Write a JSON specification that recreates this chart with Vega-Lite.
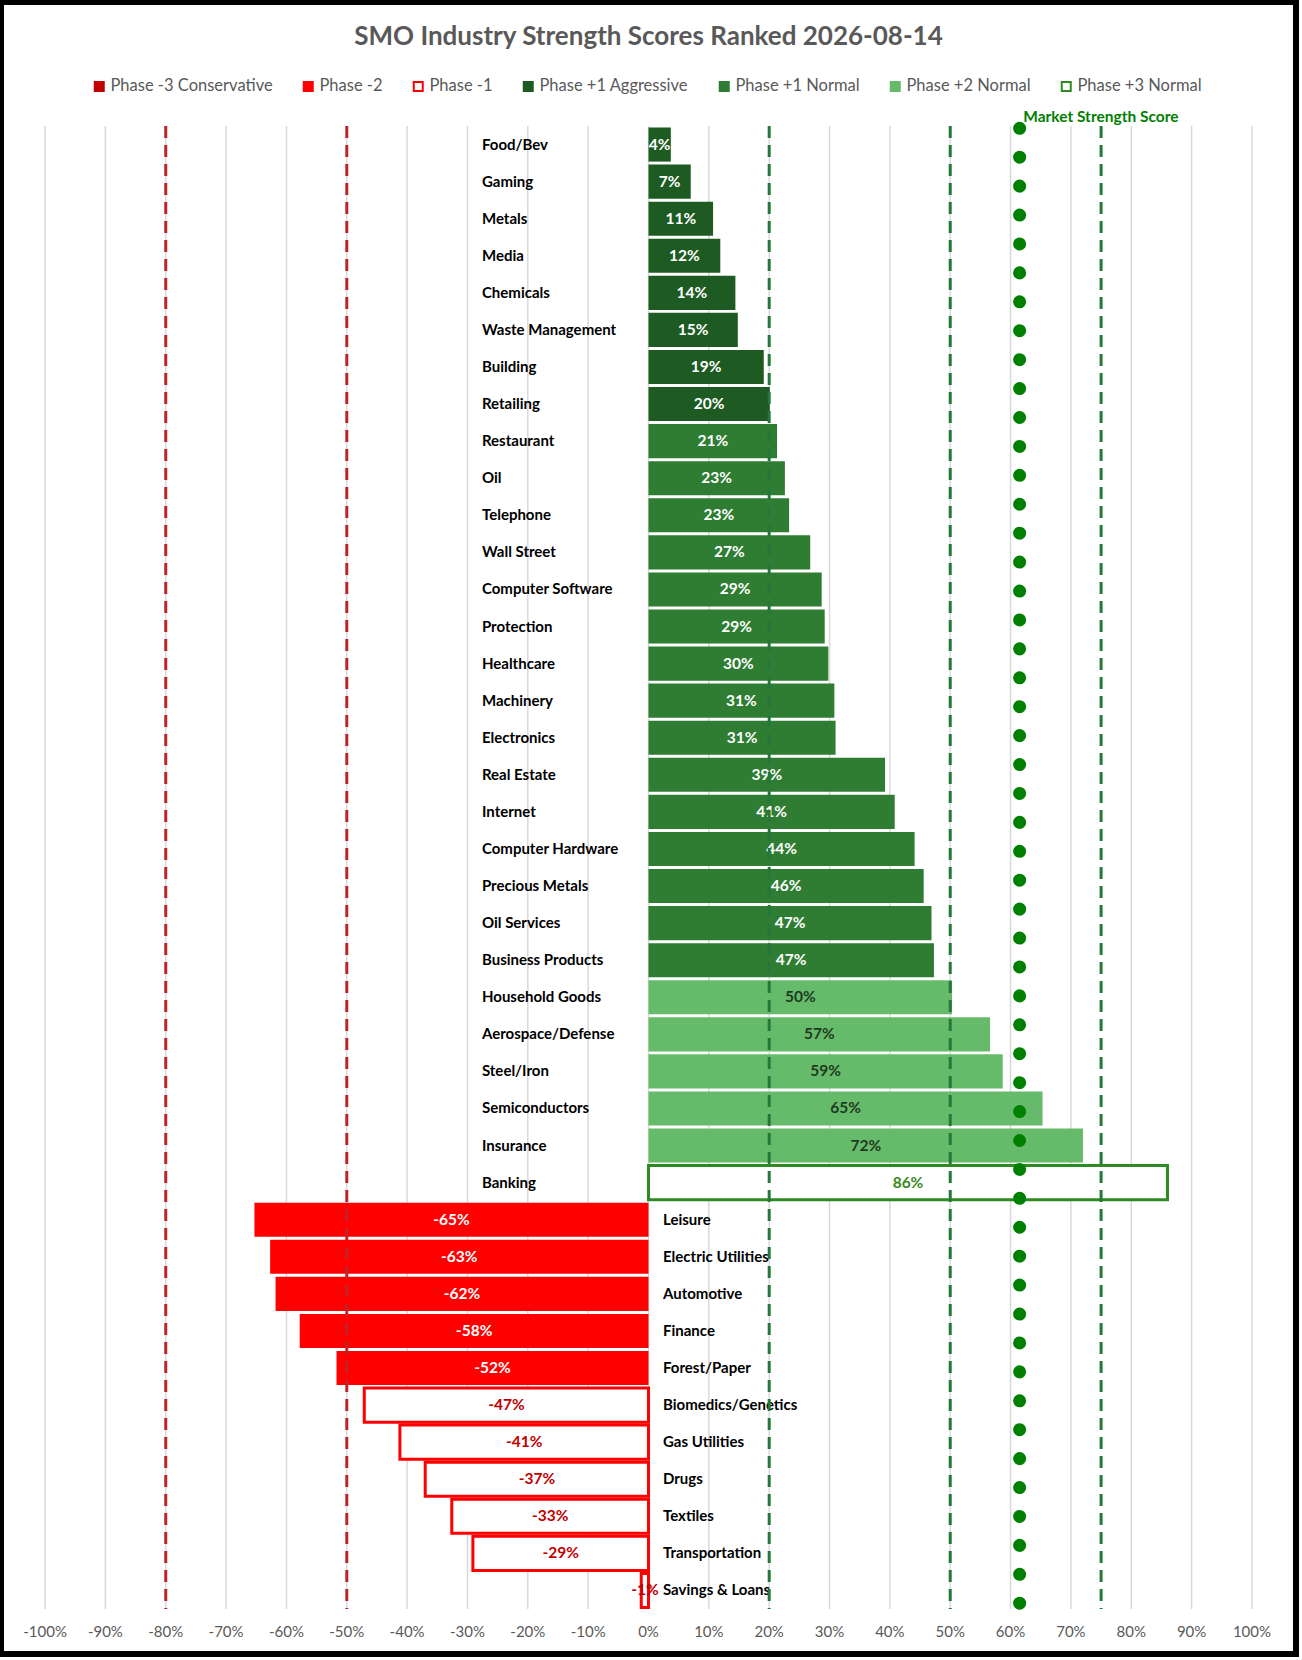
{
  "$schema": "https://vega.github.io/schema/vega-lite/v6.json",
  "description": "SMO industry strength scores ranked, with phase colours and market strength score.",
  "width": 1295,
  "height": 1652,
  "autosize": {"type": "none"},
  "padding": {"left": 1, "top": 2, "right": 6, "bottom": 6},
  "background": "white",
  "layer": [
    {
      "data": {"values": [
        {"x": -1}, {"x": -0.9}, {"x": -0.8}, {"x": -0.7}, {"x": -0.6}, {"x": -0.5}, {"x": -0.4},
        {"x": -0.3}, {"x": -0.2}, {"x": -0.1}, {"x": 0}, {"x": 0.1}, {"x": 0.2}, {"x": 0.3},
        {"x": 0.4}, {"x": 0.5}, {"x": 0.6}, {"x": 0.7}, {"x": 0.8}, {"x": 0.9}, {"x": 1}
      ]},
      "layer": [
        {
          "mark": {"type": "rule", "color": "#D9D9D9", "strokeWidth": 1.5},
          "encoding": {
            "x": {"field": "x", "type": "quantitative", "scale": {"domain": [-1.073, 1.073]}, "axis": null},
            "y": {"datum": -0.08, "type": "quantitative", "scale": {"domain": [-4.367, 52.756], "reverse": true}, "axis": null},
            "y2": {"datum": 51.2}
          }
        },
        {
          "mark": {"type": "text", "fontSize": 15, "color": "#595959", "align": "center", "baseline": "middle"},
          "encoding": {
            "x": {"field": "x", "type": "quantitative", "scale": {"domain": [-1.073, 1.073]}, "axis": null},
            "y": {"datum": 51.98, "type": "quantitative", "scale": {"domain": [-4.367, 52.756], "reverse": true}, "axis": null},
            "text": {"field": "x", "type": "quantitative", "format": ".0%"}
          }
        }
      ]
    },
    {
      "data": {"values": [
        {"name": "Food/Bev", "v": 0.037, "phase": "Phase +1 Aggressive"},
        {"name": "Gaming", "v": 0.07, "phase": "Phase +1 Aggressive"},
        {"name": "Metals", "v": 0.107, "phase": "Phase +1 Aggressive"},
        {"name": "Media", "v": 0.119, "phase": "Phase +1 Aggressive"},
        {"name": "Chemicals", "v": 0.144, "phase": "Phase +1 Aggressive"},
        {"name": "Waste Management", "v": 0.148, "phase": "Phase +1 Aggressive"},
        {"name": "Building", "v": 0.191, "phase": "Phase +1 Aggressive"},
        {"name": "Retailing", "v": 0.201, "phase": "Phase +1 Aggressive"},
        {"name": "Restaurant", "v": 0.213, "phase": "Phase +1 Normal"},
        {"name": "Oil", "v": 0.226, "phase": "Phase +1 Normal"},
        {"name": "Telephone", "v": 0.233, "phase": "Phase +1 Normal"},
        {"name": "Wall Street", "v": 0.268, "phase": "Phase +1 Normal"},
        {"name": "Computer Software", "v": 0.287, "phase": "Phase +1 Normal"},
        {"name": "Protection", "v": 0.292, "phase": "Phase +1 Normal"},
        {"name": "Healthcare", "v": 0.298, "phase": "Phase +1 Normal"},
        {"name": "Machinery", "v": 0.308, "phase": "Phase +1 Normal"},
        {"name": "Electronics", "v": 0.31, "phase": "Phase +1 Normal"},
        {"name": "Real Estate", "v": 0.392, "phase": "Phase +1 Normal"},
        {"name": "Internet", "v": 0.408, "phase": "Phase +1 Normal"},
        {"name": "Computer Hardware", "v": 0.441, "phase": "Phase +1 Normal"},
        {"name": "Precious Metals", "v": 0.456, "phase": "Phase +1 Normal"},
        {"name": "Oil Services", "v": 0.469, "phase": "Phase +1 Normal"},
        {"name": "Business Products", "v": 0.473, "phase": "Phase +1 Normal"},
        {"name": "Household Goods", "v": 0.503, "phase": "Phase +2 Normal"},
        {"name": "Aerospace/Defense", "v": 0.566, "phase": "Phase +2 Normal"},
        {"name": "Steel/Iron", "v": 0.587, "phase": "Phase +2 Normal"},
        {"name": "Semiconductors", "v": 0.653, "phase": "Phase +2 Normal"},
        {"name": "Insurance", "v": 0.72, "phase": "Phase +2 Normal"},
        {"name": "Banking", "v": 0.86, "phase": "Phase +3 Normal"},
        {"name": "Leisure", "v": -0.653, "phase": "Phase -2"},
        {"name": "Electric Utilities", "v": -0.627, "phase": "Phase -2"},
        {"name": "Automotive", "v": -0.618, "phase": "Phase -2"},
        {"name": "Finance", "v": -0.578, "phase": "Phase -2"},
        {"name": "Forest/Paper", "v": -0.517, "phase": "Phase -2"},
        {"name": "Biomedics/Genetics", "v": -0.471, "phase": "Phase -1"},
        {"name": "Gas Utilities", "v": -0.412, "phase": "Phase -1"},
        {"name": "Drugs", "v": -0.37, "phase": "Phase -1"},
        {"name": "Textiles", "v": -0.326, "phase": "Phase -1"},
        {"name": "Transportation", "v": -0.291, "phase": "Phase -1"},
        {"name": "Savings & Loans", "v": -0.012, "phase": "Phase -1"}
      ]},
      "layer": [
        {
          "mark": {"type": "bar"},
          "encoding": {
            "y": {
              "field": "name", "type": "nominal", "sort": null, "axis": null,
              "scale": {
                "domain": ["Food/Bev", "Gaming", "Metals", "Media", "Chemicals", "Waste Management", "Building", "Retailing", "Restaurant", "Oil", "Telephone", "Wall Street", "Computer Software", "Protection", "Healthcare", "Machinery", "Electronics", "Real Estate", "Internet", "Computer Hardware", "Precious Metals", "Oil Services", "Business Products", "Household Goods", "Aerospace/Defense", "Steel/Iron", "Semiconductors", "Insurance", "Banking", "Leisure", "Electric Utilities", "Automotive", "Finance", "Forest/Paper", "Biomedics/Genetics", "Gas Utilities", "Drugs", "Textiles", "Transportation", "Savings & Loans"],
                "range": [124, 1607],
                "paddingInner": 0.08, "paddingOuter": 0.04, "round": false
              }
            },
            "x": {"field": "v", "type": "quantitative", "scale": {"domain": [-1.073, 1.073]}, "axis": null},
            "fill": {
              "field": "phase", "type": "nominal",
              "scale": {
                "domain": ["Phase -3 Conservative", "Phase -2", "Phase -1", "Phase +1 Aggressive", "Phase +1 Normal", "Phase +2 Normal", "Phase +3 Normal"],
                "range": ["#C00000", "#FF0000", "#FFFFFF", "#1D5B22", "#2E7D32", "#66BB6A", "#FFFFFF"]
              },
              "legend": {
                "title": null, "orient": "none", "legendX": 90, "legendY": 76, "direction": "horizontal", "columns": 7,
                "columnPadding": 26, "symbolType": "square", "symbolSize": 81, "symbolStrokeWidth": 2,
                "labelFontSize": 16.5, "labelColor": "#595959", "labelLimit": 300, "labelOffset": 3, "padding": 0
              }
            },
            "stroke": {
              "field": "phase", "type": "nominal",
              "scale": {
                "domain": ["Phase -3 Conservative", "Phase -2", "Phase -1", "Phase +1 Aggressive", "Phase +1 Normal", "Phase +2 Normal", "Phase +3 Normal"],
                "range": ["#C00000", "#FF0000", "#FF0000", "#1D5B22", "#2E7D32", "#66BB6A", "#2E8B22"]
              },
              "legend": {
                "title": null, "orient": "none", "legendX": 90, "legendY": 76, "direction": "horizontal", "columns": 7,
                "columnPadding": 26, "symbolType": "square", "symbolSize": 81, "symbolStrokeWidth": 2,
                "labelFontSize": 16.5, "labelColor": "#595959", "labelLimit": 300, "labelOffset": 3, "padding": 0
              }
            },
            "strokeWidth": {
              "condition": {"test": "datum.phase === 'Phase -1' || datum.phase === 'Phase +3 Normal'", "value": 3},
              "value": 0
            }
          }
        },
        {
          "mark": {"type": "text", "fontSize": 15.5, "fontWeight": "bold", "align": "center", "baseline": "middle"},
          "encoding": {
            "y": {"field": "name", "type": "nominal", "sort": null, "axis": null},
            "x": {"field": "v", "type": "quantitative", "stack": "zero", "bandPosition": 0.5, "scale": {"domain": [-1.073, 1.073]}, "axis": null},
            "text": {"field": "v", "type": "quantitative", "format": ".0%"},
            "color": {
              "condition": [
                {"test": "datum.phase === 'Phase +2 Normal'", "value": "#1F3A22"},
                {"test": "datum.phase === 'Phase +3 Normal'", "value": "#3A8A1A"},
                {"test": "datum.phase === 'Phase -1'", "value": "#C00000"}
              ],
              "value": "#FFFFFF"
            }
          }
        },
        {
          "transform": [{"filter": "datum.v > 0"}],
          "mark": {"type": "text", "fontSize": 15, "fontWeight": "bold", "align": "left", "baseline": "middle", "color": "#000000"},
          "encoding": {
            "y": {"field": "name", "type": "nominal", "sort": null, "axis": null},
            "x": {"datum": -0.276, "type": "quantitative", "scale": {"domain": [-1.073, 1.073]}, "axis": null},
            "text": {"field": "name", "type": "nominal"}
          }
        },
        {
          "transform": [{"filter": "datum.v < 0"}],
          "mark": {"type": "text", "fontSize": 15, "fontWeight": "bold", "align": "left", "baseline": "middle", "color": "#000000"},
          "encoding": {
            "y": {"field": "name", "type": "nominal", "sort": null, "axis": null},
            "x": {"datum": 0.024, "type": "quantitative", "scale": {"domain": [-1.073, 1.073]}, "axis": null},
            "text": {"field": "name", "type": "nominal"}
          }
        }
      ]
    },
    {
      "data": {"values": [{"x": -0.8}, {"x": -0.5}, {"x": 0.2}, {"x": 0.5}, {"x": 0.75}]},
      "mark": {"type": "rule", "strokeWidth": 3, "strokeDash": [12, 7]},
      "encoding": {
        "x": {"field": "x", "type": "quantitative", "scale": {"domain": [-1.073, 1.073]}, "axis": null},
        "y": {"datum": -0.08, "type": "quantitative", "scale": {"domain": [-4.367, 52.756], "reverse": true}, "axis": null},
        "y2": {"datum": 51.2},
        "color": {"condition": {"test": "datum.x < 0", "value": "#C0242B"}, "value": "#23783A"}
      }
    },
    {
      "layer": [
        {
          "data": {"values": [
            {"i": 0, "score": 0.615}, {"i": 1, "score": 0.615}, {"i": 2, "score": 0.615}, {"i": 3, "score": 0.615},
            {"i": 4, "score": 0.615}, {"i": 5, "score": 0.615}, {"i": 6, "score": 0.615}, {"i": 7, "score": 0.615},
            {"i": 8, "score": 0.615}, {"i": 9, "score": 0.615}, {"i": 10, "score": 0.615}, {"i": 11, "score": 0.615},
            {"i": 12, "score": 0.615}, {"i": 13, "score": 0.615}, {"i": 14, "score": 0.615}, {"i": 15, "score": 0.615},
            {"i": 16, "score": 0.615}, {"i": 17, "score": 0.615}, {"i": 18, "score": 0.615}, {"i": 19, "score": 0.615},
            {"i": 20, "score": 0.615}, {"i": 21, "score": 0.615}, {"i": 22, "score": 0.615}, {"i": 23, "score": 0.615},
            {"i": 24, "score": 0.615}, {"i": 25, "score": 0.615}, {"i": 26, "score": 0.615}, {"i": 27, "score": 0.615},
            {"i": 28, "score": 0.615}, {"i": 29, "score": 0.615}, {"i": 30, "score": 0.615}, {"i": 31, "score": 0.615},
            {"i": 32, "score": 0.615}, {"i": 33, "score": 0.615}, {"i": 34, "score": 0.615}, {"i": 35, "score": 0.615},
            {"i": 36, "score": 0.615}, {"i": 37, "score": 0.615}, {"i": 38, "score": 0.615}, {"i": 39, "score": 0.615},
            {"i": 40, "score": 0.615}, {"i": 41, "score": 0.615}, {"i": 42, "score": 0.615}, {"i": 43, "score": 0.615},
            {"i": 44, "score": 0.615}, {"i": 45, "score": 0.615}, {"i": 46, "score": 0.615}, {"i": 47, "score": 0.615},
            {"i": 48, "score": 0.615}, {"i": 49, "score": 0.615}, {"i": 50, "score": 0.615}, {"i": 51, "score": 0.615}
          ]},
          "mark": {"type": "point", "filled": true, "size": 170, "color": "#008000", "opacity": 1},
          "encoding": {
            "x": {"field": "score", "type": "quantitative", "scale": {"domain": [-1.073, 1.073]}, "axis": null},
            "y": {"field": "i", "type": "quantitative", "scale": {"domain": [-4.367, 52.756], "reverse": true}, "axis": null}
          }
        },
        {
          "data": {"values": [{"label": "Market Strength Score"}]},
          "mark": {"type": "text", "fontSize": 15.5, "fontWeight": "bold", "color": "#008000", "align": "left", "baseline": "middle"},
          "encoding": {
            "x": {"datum": 0.621, "type": "quantitative", "scale": {"domain": [-1.073, 1.073]}, "axis": null},
            "y": {"datum": -0.39, "type": "quantitative", "scale": {"domain": [-4.367, 52.756], "reverse": true}, "axis": null},
            "text": {"field": "label", "type": "nominal"}
          }
        },
        {
          "data": {"values": [{"label": "SMO Industry Strength Scores Ranked 2026-08-14"}]},
          "mark": {"type": "text", "fontSize": 26, "fontWeight": "bold", "color": "#595959", "align": "center", "baseline": "middle"},
          "encoding": {
            "x": {"datum": 0, "type": "quantitative", "scale": {"domain": [-1.073, 1.073]}, "axis": null},
            "y": {"datum": -3.17, "type": "quantitative", "scale": {"domain": [-4.367, 52.756], "reverse": true}, "axis": null},
            "text": {"field": "label", "type": "nominal"}
          }
        }
      ]
    }
  ],
  "resolve": {"scale": {"y": "independent"}},
  "config": {
    "font": "Lato",
    "view": {"stroke": "#000000", "strokeWidth": 6},
    "locale": {"number": {"decimal": ".", "thousands": ",", "grouping": [3], "currency": ["$", ""], "minus": "-"}}
  }
}
